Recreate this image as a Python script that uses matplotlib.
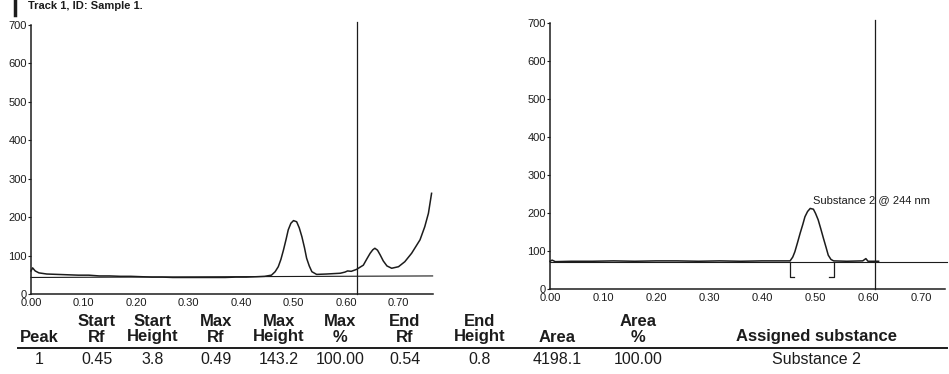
import matplotlib
matplotlib.use('Agg')
import matplotlib.pyplot as plt
from matplotlib.lines import Line2D

plt.rcParams['font.family'] = ['Liberation Sans', 'DejaVu Sans']

# --- left scan (track 1), Rf vs signal (AU)
rf_left = [0.000, 0.003, 0.008, 0.015, 0.030, 0.050, 0.070, 0.090, 0.110, 0.130,
           0.150, 0.170, 0.190, 0.210, 0.230, 0.250, 0.270, 0.290, 0.310, 0.330,
           0.350, 0.370, 0.390, 0.410, 0.430, 0.445, 0.458, 0.465, 0.471, 0.476,
           0.481, 0.486, 0.490, 0.495, 0.500, 0.506, 0.511, 0.516, 0.521, 0.525,
           0.530, 0.535, 0.544, 0.563, 0.589, 0.598, 0.603, 0.610, 0.620, 0.633,
           0.640, 0.646, 0.651, 0.655, 0.660, 0.665, 0.671, 0.678, 0.687, 0.700,
           0.712, 0.725, 0.741, 0.750, 0.757, 0.763]
au_left = [60, 68, 60, 55, 52, 51, 50, 49, 49, 47,
           47, 46, 46, 45, 44, 44, 43, 43, 43, 43,
           43, 43, 44, 44, 45, 46, 49, 58, 71, 90,
           115, 143, 167, 184, 191, 188, 172, 149, 120, 93,
           73, 58, 51, 52, 54, 57, 60, 59, 64, 75,
           92, 106, 115, 119, 114, 102, 86, 73, 67, 71,
           84, 106, 141, 175, 210, 262]
base_left = [43, 47]
front_left = 0.62

# --- right scan, Rf vs signal (AU)
rf_right = [0.000, 0.004, 0.010, 0.040, 0.080, 0.120, 0.160, 0.200, 0.240, 0.280,
            0.320, 0.360, 0.400, 0.430, 0.453, 0.458, 0.462, 0.467, 0.472, 0.477,
            0.481, 0.486, 0.491, 0.497, 0.501, 0.506, 0.511, 0.516, 0.521, 0.525,
            0.530, 0.535, 0.560, 0.590, 0.596, 0.600, 0.620]
au_right = [73, 76, 72, 73, 73, 74, 73, 74, 74, 73,
            74, 73, 74, 74, 74, 84, 98, 122, 147, 170,
            190, 204, 212, 210, 199, 182, 158, 133, 109, 89,
            78, 74, 73, 74, 80, 73, 73]
base_right = 72
front_right = 0.613
peak_start = 0.453
peak_end = 0.535
peak_label = 'Substance 2 @ 244 nm'

# --- result table
head_top = ['', 'Start', 'Start', 'Max', 'Max', 'Max', 'End', 'End', '', 'Area', '']
head_bot = ['Peak', 'Rf', 'Height', 'Rf', 'Height', '%', 'Rf', 'Height', 'Area', '%',
            'Assigned substance']
row_1 = ['1', '0.45', '3.8', '0.49', '143.2', '100.00', '0.54', '0.8', '4198.1',
         '100.00', 'Substance 2']
col_px = [39, 97, 153, 216, 279, 340, 405, 480, 557, 638, 816]

W, H = 949, 374
ink = '#1c1c1c'
fig = plt.figure(figsize=(W / 100, H / 100), dpi=100)

ticks = [0.0, 0.1, 0.2, 0.3, 0.4, 0.5, 0.6, 0.7]
tick_lbl = [f'{t:.2f}' for t in ticks]


def style(ax, xmax):
    ax.set_xlim(0, xmax)
    ax.set_ylim(0, 700)
    for s in ['top', 'right']:
        ax.spines[s].set_visible(False)
    for s in ['left', 'bottom']:
        ax.spines[s].set_color(ink)
        ax.spines[s].set_linewidth(1.1)
    ax.set_yticks(range(0, 701, 100))
    ax.set_xticks(ticks)
    ax.set_xticklabels(tick_lbl)
    ax.tick_params(axis='y', length=2, width=0.8, pad=1, labelsize=8, colors=ink)
    ax.tick_params(axis='x', length=0, pad=3, labelsize=8, colors=ink)
    ax.patch.set_alpha(0)


# left panel
ax1 = fig.add_axes([31 / W, 1 - 294 / H, 402 / W, 269 / H])
style(ax1, 402 / 525)
ax1.plot(rf_left, au_left, color=ink, lw=1.1, clip_on=False)
ax1.plot([0, 0.765], base_left, color=ink, lw=0.8, clip_on=False)
ax1.plot([front_left, front_left], [0, 708], color=ink, lw=0.9, clip_on=False)

# right panel
ax2 = fig.add_axes([550 / W, 1 - 289 / H, 395 / W, 266 / H])
style(ax2, 395 / 530)
ax2.plot(rf_right, au_right, color=ink, lw=1.1, clip_on=False)
ax2.plot([0, 0.749], [base_right, base_right], color=ink, lw=0.8, clip_on=False)
ax2.plot([front_right, front_right], [0, 708], color=ink, lw=0.9, clip_on=False)
ax2.plot([peak_start + 0.008, peak_start, peak_start], [32, 32, base_right],
         color=ink, lw=0.9)
ax2.plot([peak_end - 0.008, peak_end, peak_end], [32, 32, base_right],
         color=ink, lw=0.9)
ax2.text(0.497, 234, peak_label, fontsize=8, color=ink, ha='left', va='center')

# small heading squeezed against the top edge
fig.text(28 / W, 1 - 1 / H, 'Track 1, ID: Sample 1.', fontsize=8,
         fontweight='bold', color=ink, va='top')
fig.add_artist(Line2D([15 / W, 15 / W], [1, 1 - 15 / H], color=ink, lw=2.5))

# table
for x, t in zip(col_px, head_top):
    fig.text(x / W, 1 - 321 / H, t, ha='center', va='center', fontsize=12,
             fontweight='bold', color=ink)
for x, t in zip(col_px, head_bot):
    fig.text(x / W, 1 - 337 / H, t, ha='center', va='center', fontsize=12,
             fontweight='bold', color=ink)
fig.add_artist(Line2D([18 / W, 947 / W], [1 - 348 / H, 1 - 348 / H],
                      color=ink, lw=1.4))
for x, t in zip(col_px, row_1):
    fig.text(x / W, 1 - 360 / H, t, ha='center', va='center', fontsize=11.5,
             color=ink)

fig.savefig('out.png', dpi=100)
